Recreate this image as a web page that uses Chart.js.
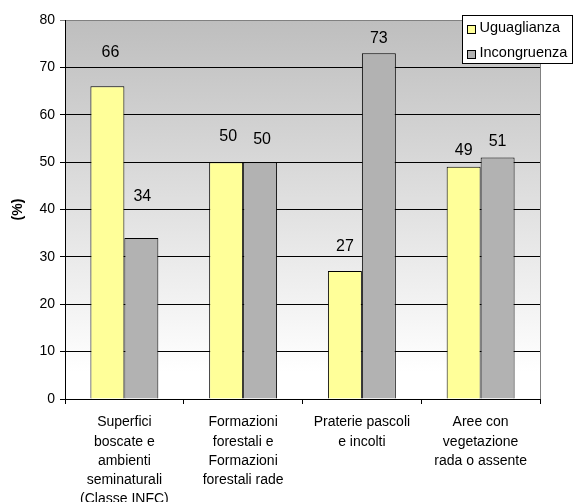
<!DOCTYPE html>
<html>
<head>
<meta charset="utf-8">
<script src="https://cdn.jsdelivr.net/npm/chart.js@4/dist/chart.umd.min.js"></script>
<style>
  html, body { margin: 0; padding: 0; background: #fff; }
  #wrap { width: 574px; height: 502px; }
</style>
</head>
<body>
<div id="wrap"><canvas id="c" width="574" height="502"></canvas></div>
<script>
// Categories (multi-line x labels)
const categories = [
  ['Superfici', 'boscate e', 'ambienti', 'seminaturali', '(Classe INFC)'],
  ['Formazioni', 'forestali e', 'Formazioni', 'forestali rade'],
  ['Praterie pascoli', 'e incolti'],
  ['Aree con', 'vegetazione', 'rada o assente']
];
const seriesNames = ['Uguaglianza', 'Incongruenza'];
const uguaglianza = [66, 50, 27, 49];
const incongruenza = [34, 50, 73, 51];
const yTicks = [0, 10, 20, 30, 40, 50, 60, 70, 80];

const FONT = 'Liberation Sans, Arial, sans-serif';

// Plot background: grey fading to white, plus the grey right border
const backdrop = {
  id: 'backdrop',
  beforeDraw(chart) {
    const { ctx, chartArea: a } = chart;
    const g = ctx.createLinearGradient(0, a.top, 0, a.bottom);
    g.addColorStop(0, '#BEBEBE');
    g.addColorStop(0.93, '#FFFFFF');
    g.addColorStop(1, '#FFFFFF');
    ctx.save();
    ctx.fillStyle = g;
    ctx.fillRect(a.left, a.top, a.right - a.left, a.bottom - a.top);
    ctx.restore();
  },
  afterDatasetsDraw(chart) {
    const { ctx, chartArea: a } = chart;
    ctx.save();
    ctx.strokeStyle = '#808080';
    ctx.lineWidth = 1;
    ctx.beginPath();
    ctx.moveTo(Math.round(a.right) + 0.5, a.top);
    ctx.lineTo(Math.round(a.right) + 0.5, a.bottom);
    ctx.stroke();
    ctx.restore();
  }
};

// Value labels above each bar
const valueLabels = {
  id: 'valueLabels',
  afterDatasetsDraw(chart, args, opts) {
    const { ctx } = chart;
    ctx.save();
    ctx.font = '16px ' + FONT;
    ctx.fillStyle = '#000';
    ctx.textAlign = 'center';
    ctx.textBaseline = 'middle';
    chart.data.datasets.forEach((ds, di) => {
      const meta = chart.getDatasetMeta(di);
      meta.data.forEach((bar, i) => {
        const off = (opts.offsets[di] && opts.offsets[di][i]) || [0, -20];
        ctx.fillText(String(ds.data[i]), bar.x + off[0], bar.y + off[1]);
      });
    });
    ctx.restore();
  }
};

// Boxed legend in the upper right corner
const boxLegend = {
  id: 'boxLegend',
  afterDraw(chart) {
    const { ctx } = chart;
    const x = 462.5, y = 15.5, w = 110, h = 48;
    ctx.save();
    ctx.fillStyle = '#fff';
    ctx.fillRect(x, y, w, h);
    ctx.strokeStyle = '#000';
    ctx.lineWidth = 1;
    ctx.strokeRect(x, y, w, h);
    ctx.font = '14.5px ' + FONT;
    ctx.textBaseline = 'middle';
    ctx.textAlign = 'left';
    chart.data.datasets.forEach((ds, i) => {
      const cy = y + 12 + i * 25;
      const sy = Math.round(cy - 3) + 0.5;
      ctx.fillStyle = ds.backgroundColor;
      ctx.fillRect(x + 5, sy, 8, 8);
      ctx.strokeStyle = '#000';
      ctx.strokeRect(x + 5, sy, 8, 8);
      ctx.fillStyle = '#000';
      ctx.fillText(ds.label, x + 17, cy);
    });
    ctx.restore();
  }
};

new Chart(document.getElementById('c'), {
  type: 'bar',
  data: {
    labels: categories,
    datasets: [
      {
        label: seriesNames[0],
        data: uguaglianza,
        backgroundColor: '#FFFF99',
        borderColor: '#000',
        borderWidth: 1,
        borderSkipped: 'bottom'
      },
      {
        label: seriesNames[1],
        data: incongruenza,
        backgroundColor: '#B2B2B2',
        borderColor: '#000',
        borderWidth: 1,
        borderSkipped: 'bottom'
      }
    ]
  },
  options: {
    responsive: false,
    animation: false,
    events: [],
    layout: { padding: { top: 20, right: 34, left: 0, bottom: 0 } },
    datasets: { bar: { categoryPercentage: 0.572, barPercentage: 1.0 } },
    plugins: {
      legend: { display: false },
      tooltip: { enabled: false },
      valueLabels: {
        offsets: [
          [[3, -34], [2, -26], [0, -24], [0, -16]],
          [[1, -41], [2, -23], [0, -15], [0, -16]]
        ]
      }
    },
    scales: {
      x: {
        offset: true,
        grid: {
          display: true,
          offset: true,
          drawOnChartArea: false,
          drawTicks: true,
          tickLength: 5,
          color: '#000'
        },
        border: { color: '#000', width: 1 },
        ticks: {
          color: '#000',
          maxRotation: 0,
          autoSkip: false,
          padding: 9,
          font: { family: FONT, size: 14, lineHeight: 1.375 }
        },
        afterFit(scale) { scale.height = 103; }
      },
      y: {
        min: 0,
        max: 80,
        afterBuildTicks(scale) { scale.ticks = yTicks.map(v => ({ value: v })); },
        grid: {
          color: (c) => (c.tick && c.tick.value === 80 ? '#808080' : '#000'),
          tickLength: 5,
          drawTicks: true
        },
        border: { color: '#000', width: 1 },
        ticks: {
          color: '#000',
          padding: 5,
          font: { family: FONT, size: 14 }
        },
        title: {
          display: true,
          text: '(%)',
          color: '#000',
          padding: { top: 10, bottom: 0 },
          font: { family: FONT, size: 14, weight: 'bold' }
        },
        afterFit(scale) { scale.width = 65; }
      }
    }
  },
  plugins: [backdrop, valueLabels, boxLegend]
});
</script>
</body>
</html>
